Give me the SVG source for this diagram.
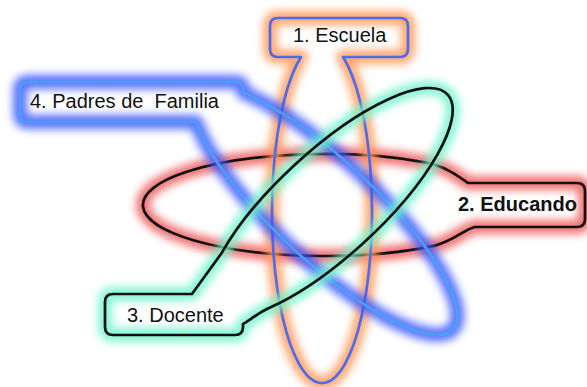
<svg xmlns="http://www.w3.org/2000/svg" xmlns:xlink="http://www.w3.org/1999/xlink" width="587" height="387" viewBox="0 0 587 387">
<defs>
<filter id="blur" x="-25%" y="-25%" width="150%" height="150%"><feGaussianBlur stdDeviation="4.2"/></filter>
<path id="p-escuela" d="M 300.9,57 A 50 171 0 1 0 343.1,57 H 400 Q 408,57 408,49 V 26 Q 408,18 400,18 H 278 Q 270,18 270,26 V 49 Q 270,57 278,57 Z"/>
<path id="p-educando" d="M 468,183 H 577 Q 585,183 585,191 V 219 Q 585,227 577,227 H 475 C 465,229 455,240 435,245.6 A 182 51 0 1 1 425,162.4 C 445,166 458,176 468,183 Z"/>
<path id="p-docente" d="M 192,294 H 113 Q 105,294 105,302 V 327 Q 105,335 113,335 H 235 Q 243,335 243,327 V 324 C 250,320 258,313 269.5,307.8 A 160 52 -42.7 1 0 221.9,252.7 Z"/>
<path id="p-padres" d="M 196,122 H 28 Q 20,122 20,114 V 90 Q 20,82 28,82 H 235 Q 243.2,82 243.2,90 V 92.6 A 175 50 43 1 1 196,122 Z"/>
</defs>
<style>
.glow { fill: none; stroke-width: 14; stroke-linejoin: round; filter: url(#blur); opacity: 0.85; }
.line { fill: none; stroke-width: 2.7; stroke-linejoin: round; }
.lbl { font-family: "Liberation Sans", Arial, sans-serif; font-size: 20px; fill: #111; white-space: pre; }
.bold { font-weight: bold; }
</style>
<rect width="587" height="387" fill="#ffffff"/>
<g id="node-educando">
<use xlink:href="#p-educando" class="glow" stroke="#ee5a5a"/>
<use xlink:href="#p-educando" class="line" stroke="#111111"/>
<text class="lbl bold" x="458" y="211">2. Educando</text>
</g>
<g id="node-escuela">
<use xlink:href="#p-escuela" class="glow" stroke="#ff9858"/>
<use xlink:href="#p-escuela" class="line" stroke="#4a6cf0"/>
<text class="lbl" x="293" y="42">1. Escuela</text>
</g>
<g id="node-padres">
<use xlink:href="#p-padres" class="glow" stroke="#3a58ff"/>
<use xlink:href="#p-padres" class="line" stroke="#4aa0f0"/>
<text class="lbl" x="30" y="108" xml:space="preserve">4. Padres de  Familia</text>
</g>
<g id="node-docente">
<use xlink:href="#p-docente" class="glow" stroke="#70f4cc"/>
<use xlink:href="#p-docente" class="line" stroke="#111111"/>
<text class="lbl" x="127" y="322">3. Docente</text>
</g>
</svg>
